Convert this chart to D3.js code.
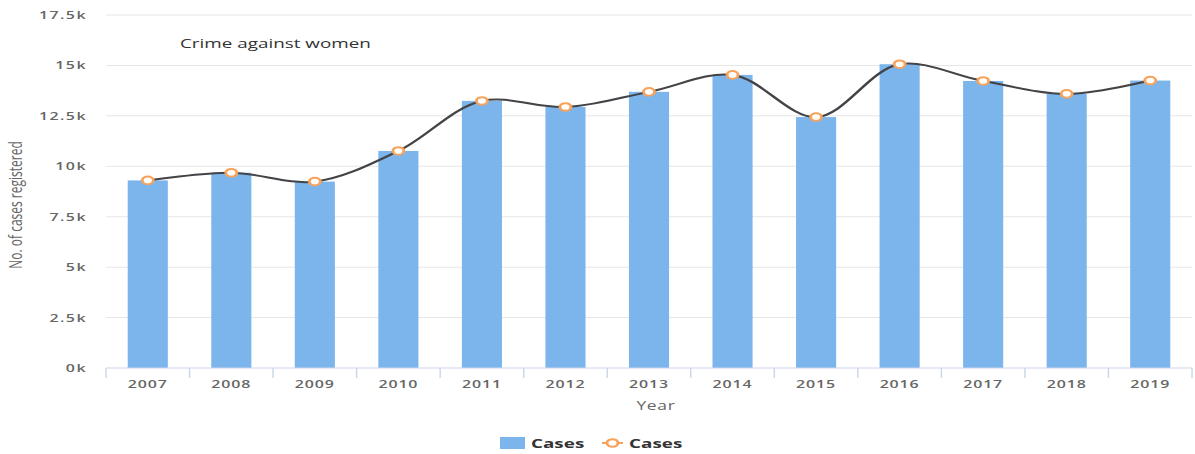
<!DOCTYPE html>
<html>
<head>
<meta charset="utf-8">
<script src="https://cdn.jsdelivr.net/npm/d3@7"></script>
<style>
  body { margin: 0; background: #fff; }
  svg { display: block; font-family: "Open Sans", "DejaVu Sans", sans-serif; }
</style>
</head>
<body>
<div id="chart"></div>
<script>
const years = ["2007", "2008", "2009", "2010", "2011", "2012", "2013", "2014", "2015", "2016", "2017", "2018", "2019"];
const cases = [9300, 9680, 9240, 10760, 13240, 12940, 13690, 14530, 12440, 15060, 14230, 13590, 14250];
const yTicks = [0, 2500, 5000, 7500, 10000, 12500, 15000, 17500];

// the reference picture is stretched sideways, so draw narrow and stretch
const stretch = 1.45;
const W = 1195, H = 454;
const vw = W / stretch;

const svg = d3.select("#chart")
    .append("svg")
    .attr("width", W)
    .attr("height", H)
    .attr("viewBox", [0, 0, vw, H])
    .attr("preserveAspectRatio", "none");

const margin = { left: 106 / stretch, right: 1192 / stretch, top: 15, bottom: 368 };

const x = d3.scaleBand().domain(years).range([margin.left, margin.right]).paddingInner(0.52).paddingOuter(0.26);
const xb = d3.scaleBand().domain(years).range([margin.left, margin.right]);
const y = d3.scaleLinear().domain([0, 17500]).range([margin.bottom, margin.top]);

// Gridlines
svg.append("g")
    .selectAll("line")
    .data(yTicks.slice(1))
    .join("line")
    .attr("x1", margin.left)
    .attr("x2", margin.right)
    .attr("y1", d => y(d))
    .attr("y2", d => y(d))
    .attr("stroke", "#e6e6e6")
    .attr("stroke-width", 1);

// Y axis labels
svg.append("g")
    .selectAll("text")
    .data(yTicks)
    .join("text")
    .attr("x", 87 / stretch)
    .attr("y", d => y(d) + 4)
    .attr("text-anchor", "end")
    .attr("font-size", 11)
    .attr("font-weight", 600)
    .attr("letter-spacing", 1)
    .attr("fill", "#666")
    .text(d => (d / 1000) + "k");

svg.append("text")
    .attr("transform", `translate(${22 / stretch},${205}) rotate(-90)`)
    .attr("text-anchor", "middle")
    .attr("font-size", 12)
    .attr("fill", "#666")
    .text("No. of cases registered");

// Bars
svg.append("g")
    .selectAll("rect")
    .data(cases)
    .join("rect")
    .attr("x", (d, i) => x(years[i]))
    .attr("width", x.bandwidth())
    .attr("y", d => y(d))
    .attr("height", d => y(0) - y(d))
    .attr("fill", "#7cb5ec");

// X axis
const gx = svg.append("g").attr("transform", `translate(0,${margin.bottom})`);
gx.append("line")
    .attr("x1", margin.left).attr("x2", margin.right)
    .attr("stroke", "#ccd6eb");
gx.selectAll(".tk")
    .data(years.concat(["end"]))
    .join("line")
    .attr("x1", (d, i) => margin.left + i * xb.bandwidth())
    .attr("x2", (d, i) => margin.left + i * xb.bandwidth())
    .attr("y1", 0).attr("y2", 10)
    .attr("stroke", "#ccd6eb");
gx.selectAll("text")
    .data(years)
    .join("text")
    .attr("x", d => xb(d) + xb.bandwidth() / 2)
    .attr("y", 20)
    .attr("text-anchor", "middle")
    .attr("font-size", 11)
    .attr("font-weight", 600)
    .attr("letter-spacing", 0.6)
    .attr("fill", "#666")
    .text(d => d);

svg.append("text")
    .attr("x", 656 / stretch)
    .attr("y", 410)
    .attr("text-anchor", "middle")
    .attr("font-size", 12)
    .attr("letter-spacing", 0.5)
    .attr("fill", "#666")
    .text("Year");

// Spline
const line = d3.line()
    .x((d, i) => xb(years[i]) + xb.bandwidth() / 2)
    .y(d => y(d))
    .curve(d3.curveCatmullRom.alpha(0.5));

svg.append("path")
    .datum(cases)
    .attr("d", line)
    .attr("fill", "none")
    .attr("stroke", "#434348")
    .attr("stroke-width", 2);

svg.append("g")
    .selectAll("circle")
    .data(cases)
    .join("circle")
    .attr("cx", (d, i) => xb(years[i]) + xb.bandwidth() / 2)
    .attr("cy", d => y(d))
    .attr("r", 3.8)
    .attr("fill", "#fff")
    .attr("stroke", "#f7a35c")
    .attr("stroke-width", 2);

// Title
svg.append("text")
    .attr("x", 180 / stretch)
    .attr("y", 48)
    .attr("font-size", 13)
    .attr("fill", "#333")
    .text("Crime against women");

// Legend
const lg = svg.append("g").attr("transform", "translate(0,443)");
lg.append("rect")
    .attr("x", 500 / stretch).attr("y", -6)
    .attr("width", 25 / stretch).attr("height", 12)
    .attr("fill", "#7cb5ec");
lg.append("text")
    .attr("x", 531 / stretch).attr("y", 5)
    .attr("font-size", 13).attr("font-weight", "bold").attr("fill", "#333")
    .text("Cases");
lg.append("line")
    .attr("x1", 602 / stretch).attr("x2", 623 / stretch)
    .attr("stroke", "#f7a35c").attr("stroke-width", 2);
lg.append("circle")
    .attr("cx", 612.5 / stretch).attr("r", 3.8)
    .attr("fill", "#fff").attr("stroke", "#f7a35c").attr("stroke-width", 2);
lg.append("text")
    .attr("x", 629 / stretch).attr("y", 5)
    .attr("font-size", 13).attr("font-weight", "bold").attr("fill", "#333")
    .text("Cases");
</script>
</body>
</html>
